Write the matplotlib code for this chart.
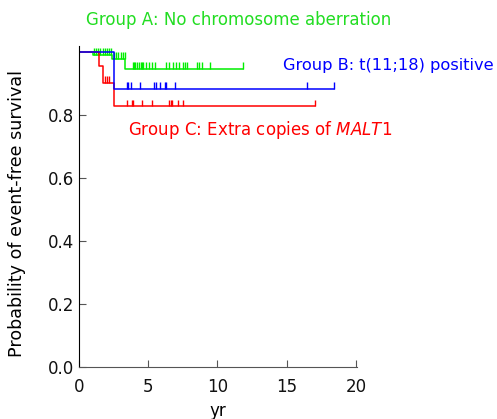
import numpy as np
import matplotlib
matplotlib.use('Agg')
import matplotlib.pyplot as plt

# step points (yr, survival)
green_t = [0, 1.0, 2.4, 3.35, 11.86]
green_s = [1.0, 0.990, 0.977, 0.946, 0.946]
green_cens = [1.1, 1.25, 1.4, 1.55, 1.7, 1.85, 2.0, 2.15, 2.3,
              2.55, 2.7, 2.85, 3.0, 3.15, 3.3,
              3.88, 3.97, 4.07, 4.21, 4.31, 4.45, 4.55, 4.64, 4.84, 5.08,
              5.27, 5.51, 6.28, 6.52, 6.81, 7.0, 7.2, 7.53, 7.67, 7.82,
              8.5, 8.69, 8.88, 9.46, 11.86]

blue_t = [0, 2.5, 18.4]
blue_s = [1.0, 0.882, 0.882]
blue_cens = [3.44, 3.56, 3.73, 4.4, 5.42, 5.56, 5.85, 6.21, 6.28, 6.93,
             16.44, 18.4]

red_t = [0, 1.42, 1.75, 2.5, 17.04]
red_s = [1.0, 0.955, 0.902, 0.827, 0.827]
red_cens = [1.9, 2.05, 2.2, 3.44, 3.8, 3.88, 4.57, 5.29, 6.5, 6.64, 6.74,
            7.17, 7.49, 17.04]

x_ticks = [0, 5, 10, 15, 20]
y_ticks = [0.0, 0.2, 0.4, 0.6, 0.8]


def surv_at(times, surv, t):
    i = np.searchsorted(times, t, side='right') - 1
    return surv[i]


fig = plt.figure(figsize=(4.97, 4.19), dpi=100)
ax = fig.add_axes([0.159, 0.124, 0.560, 0.767])

curves = [(green_t, green_s, green_cens, '#00ee00'),
          (red_t, red_s, red_cens, '#ff0000'),
          (blue_t, blue_s, blue_cens, '#0000ff')]
for t, s, cens, col in curves:
    ax.step(t, s, where='post', color=col, lw=1.1)
    ys = [surv_at(t, s, c) for c in cens]
    ax.vlines(cens, ys, np.array(ys) + 0.022, color=col, lw=1.0)

ax.set_xlim(0, 20.1)
ax.set_ylim(0, 1.02)
ax.set_xticks(x_ticks)
ax.set_yticks(y_ticks)
ax.set_yticklabels([f'{v:.1f}' for v in y_ticks])
ax.tick_params(direction='in', length=5, color='#555555', labelsize=12,
               labelcolor='#111111')
ax.tick_params(axis='x', pad=8)
ax.spines['top'].set_visible(False)
ax.spines['right'].set_visible(False)
ax.spines['left'].set_color('black')
ax.spines['bottom'].set_color('#555555')
ax.set_xlabel('yr', fontsize=12, labelpad=4)
ax.set_ylabel('Probability of event-free survival', fontsize=12.6)
ax.yaxis.set_label_coords(-0.19, 0.478)

ax.text(0.5, 1.10, 'Group A: No chromosome aberration', color='#22dd22',
        fontsize=12, va='center', clip_on=False)
ax.text(14.75, 0.956, 'Group B: t(11;18) positive', color='#0000ff',
        fontsize=11.7, va='center', clip_on=False)
ax.text(3.54, 0.752, 'Group C: Extra copies of $\\it{MALT1}$', color='#ff0000',
        fontsize=12, va='center', clip_on=False)

fig.savefig('out.png', dpi=100)
